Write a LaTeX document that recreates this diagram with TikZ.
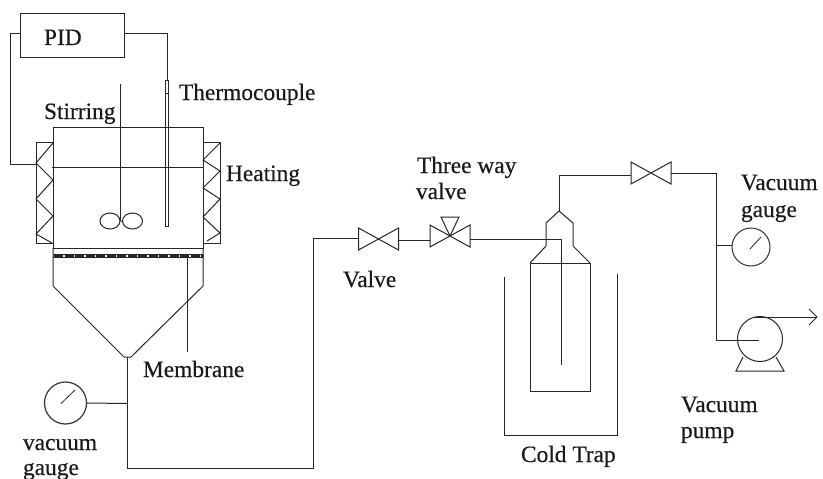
\documentclass[tikz,border=0pt]{standalone}
\usepackage{fontspec}
\setmainfont{Liberation Serif}
\newfontfamily\lblfont{Liberation Serif}[FakeBold=0.35]
\usetikzlibrary{shapes.geometric}
\tikzset{
  pipe/.style={draw=black!85,line width=1pt,line join=miter},
  lbl/.style={anchor=base west,inner sep=0pt,outer sep=0pt,text=black!90,font=\lblfont\fontsize{23.4}{24}\selectfont},
  dial/.style={circle,draw=black!80,line width=1.2pt,inner sep=0pt},
  blade/.style={ellipse,draw=black!85,line width=1pt,inner sep=0pt,minimum width=20pt,minimum height=16pt},
  valvepic/.pic={
    \draw[pipe] (-20,-11) -- (20,11) -- (20,-11) -- (-20,11) -- cycle;
  },
  threeway/.pic={
    \draw[pipe] (-20,-11) -- (20,11) -- (20,-11) -- (-20,11) -- cycle;
    \draw[pipe] (0,0) -- (-9,-19) -- (9,-19) -- cycle;
  }
}
\begin{document}
\begin{tikzpicture}[x=1pt,y=-1pt]
\useasboundingbox (0,0) rectangle (823,479);
% PID
\node[draw=black!85,line width=1pt,minimum width=104pt,minimum height=44pt,inner sep=0pt] (pid) at (72,35) {};
\node[lbl] (pidt) at (44,45) {PID};
\coordinate (heatL) at (36,164);
\coordinate (pl1) at (10,33);
\coordinate (pl2) at (10,164);
\coordinate (pr1) at (167,33);
\coordinate (tctop) at (167,80);
\draw[pipe] (pid.west |- pl1) -- (pl1) -- (pl2) -- (heatL);
\draw[pipe] (pid.east |- pr1) -- (pr1) -- (tctop);
% Vessel
\draw[pipe] (53,127) rectangle (203,248);
\draw[pipe] (52,167) -- (204,167);
% Heaters
\draw[pipe] (36,142) rectangle (53,243);
\draw[pipe] (53,143) -- (36,163) -- (53,180) -- (36,199) -- (53,216) -- (36,234) -- (52,243);
\draw[pipe] (203,142) rectangle (220,243);
\draw[pipe] (220,143) -- (203,160) -- (220,171) -- (203,188) -- (220,199) -- (203,217) -- (220,233) -- (207,241);
% Thermocouple
\draw[pipe,line width=0.9pt] (165.5,80) rectangle (168.5,226);
\draw[pipe,line width=0.9pt] (165.5,93) -- (168.5,93);
% Stirrer
\draw[pipe] (120.5,84) -- (120.5,221);
\node[blade] (b1) at (110,221) {};
\node[blade] (b2) at (132.5,221) {};
\draw[pipe] (b1.east) -- (b2.west);
% Membrane
\draw[pipe] (53,254) -- (203,254);
\draw[pipe] (53,257) -- (203,257);
\draw[black!85,line width=2pt,dash pattern=on 9pt off 1.5pt] (54,255.5) -- (204,255.5);
\draw[pipe] (53,248) -- (53,286) -- (124,357) -- (131,357) -- (203,286) -- (203,248);
\coordinate (mtop) at (187,257);
\coordinate (mbot) at (187,352);
\draw[pipe] (mtop) -- (mbot);
% Left gauge
\node[dial,minimum size=42pt] (g1) at (65.5,403) {};
\draw[pipe,line width=0.8pt] (61,403.5) -- (75,390);
\coordinate (outlet) at (127.5,357);
\coordinate (tee1) at (127.5,403.5);
\coordinate (pb1) at (127.5,468);
\coordinate (pb2) at (313,468);
\coordinate (pb3) at (313,238);
\coordinate (v1w) at (358,238);
\coordinate (v1e) at (399,240);
\coordinate (v2w) at (430,240);
\draw[pipe] (g1.east) -- (tee1);
\draw[pipe] (outlet) -- (pb1) -- (pb2) -- (pb3) -- (v1w);
% Valves
\pic at (378.5,239) {valvepic};
\pic at (450,236) {threeway};
\draw[pipe] (v1e) -- (v2w);
\coordinate (v2e) at (470,239);
\coordinate (dip1) at (561,239);
\coordinate (dip2) at (561,365);
\draw[pipe] (v2e) -- (dip1) -- (dip2);
% Trap
\draw[pipe] (530,263) rectangle (590,391);
\draw[pipe] (530,263) -- (546,246) -- (546,223) -- (559,211) -- (573,223) -- (573,246) -- (590,263);
\draw[pipe] (504,277) -- (504,435) -- (617,435) -- (617,274);
% Outlet
\coordinate (trapTop) at (559,211);
\coordinate (o1) at (559,175);
\coordinate (v3w) at (631,175);
\draw[pipe] (trapTop) -- (o1) -- (v3w);
\pic at (651,173) {valvepic};
\coordinate (v3e) at (671,173);
\coordinate (o2) at (716,173);
\coordinate (o3) at (716,340);
\coordinate (tee2) at (716,245);
\coordinate (pumpin) at (759,340);
\node[dial,minimum size=38pt,line width=1pt] (g2) at (751,247) {};
\draw[pipe,line width=0.8pt] (750,249) -- (761,237);
\draw[pipe] (tee2) -- (g2.west |- tee2);
% Pump
\node[dial,minimum size=45pt,draw=black!85,line width=1pt] (pump) at (760,339) {};
\draw[pipe] (v3e) -- (o2) -- (o3) -- (pumpin);
\coordinate (pt1) at (754,317);
\coordinate (pt2) at (817,317);
\draw[pipe] (pt1) -- (pt2);
\draw[pipe,line width=0.9pt] (809,309) -- (817,317) -- (809,325);
\draw[pipe] (743,357) -- (736,371) -- (784,371) -- (776,357);
% Labels
\node[lbl] (tThermo) at (179,100) {Thermocouple};
\node[lbl] (tStir) at (44,119) {Stirring};
\node[lbl] (tHeat) at (226,181) {Heating};
\node[lbl] (tMem) at (143,377) {Membrane};
\node[lbl] (tvac) at (23,450) {vacuum};
\node[lbl] (tgau) at (23,475) {gauge};
\node[lbl] (tValve) at (343,287) {Valve};
\node[lbl] (tThree) at (417,173) {Three way};
\node[lbl] (tvalve2) at (416,199) {valve};
\node[lbl] (tCold) at (521,462) {Cold Trap};
\node[lbl] (tVac2) at (741,190) {Vacuum};
\node[lbl] (tGau2) at (741,217) {gauge};
\node[lbl] (tVac3) at (681,412) {Vacuum};
\node[lbl] (tPump) at (681,438) {pump};
\end{tikzpicture}
\end{document}
